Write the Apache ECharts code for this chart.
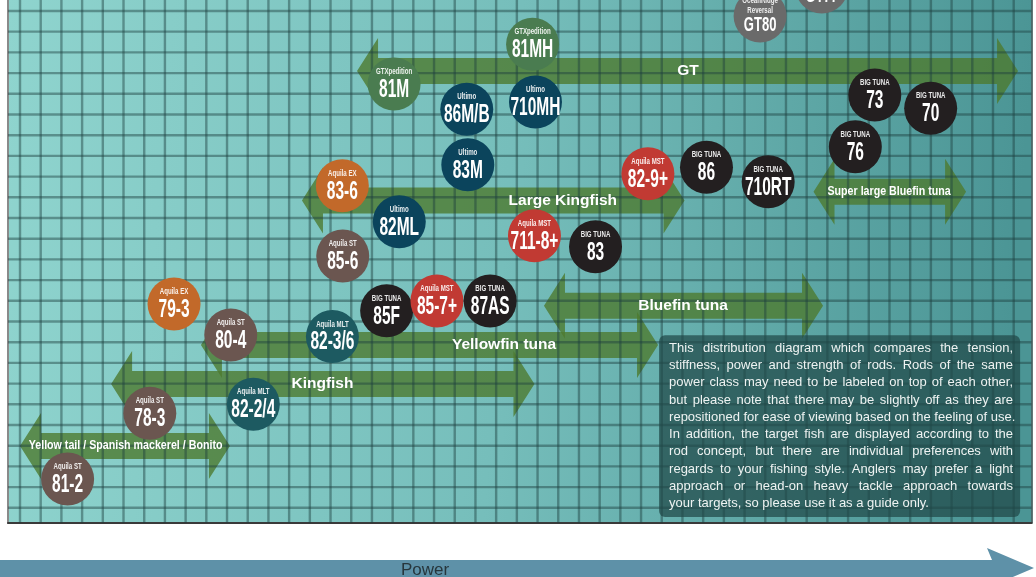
<!DOCTYPE html>
<html><head><meta charset="utf-8">
<script src="https://cdn.jsdelivr.net/npm/echarts@6/dist/echarts.min.js"></script>
<style>html,body{margin:0;padding:0;background:#fff}#c{width:1036px;height:577px}</style>
</head><body><div id="c"></div>
<script>
// ---- data (units = grid cells; x = power, y = level) ----
const rodBrand = ['GTXpedition','GTXpedition','Ultimo','Ultimo','Ultimo','OceanRidge Reversal','OceanRidge Reversal','BIG TUNA','BIG TUNA','BIG TUNA','Aquila EX','Ultimo','Aquila ST','Aquila MST','BIG TUNA','BIG TUNA','Aquila MST','BIG TUNA','Aquila EX','Aquila ST','Aquila MLT','BIG TUNA','Aquila MST','BIG TUNA','Aquila MLT','Aquila ST','Aquila ST'];
const rodModel = ['81M','81MH','86M/B','710MH','83M','GT80','GT77','73','70','76','83-6','82ML','85-6','82-9+','86','710RT','711-8+','83','79-3','80-4','82-3/6','85F','85-7+','87AS','82-2/4','78-3','81-2'];
const rodPower = [18.07,24.76,21.58,24.90,21.63,35.75,38.73,41.29,43.99,40.35,15.57,18.32,15.59,30.33,33.16,36.14,24.85,27.80,7.44,10.18,15.09,17.71,20.14,22.71,11.27,6.27,2.30];
const rodLevel = [20.47,22.39,19.25,19.60,16.57,23.76,25.16,19.94,19.30,17.44,15.56,13.82,12.16,16.14,16.45,15.75,13.14,12.61,9.85,8.35,8.27,9.52,9.99,9.99,5.00,4.57,1.39];

const fishName = ['GT','Large Kingfish','Super large Bluefin tuna','Bluefin tuna','Yellowfin tuna','Kingfish','Yellow tail / Spanish mackerel / Bonito'];
const fishFrom = [16.28,13.62,38.33,25.31,8.74,4.40,0.00];
const fishTo   = [48.21,32.10,45.70,38.79,30.82,24.85,10.14];
const fishLevel = [21.10,14.84,15.27,9.76,7.86,5.98,2.99];
const fishLabelAt = [32.27,26.22,41.98,32.03,23.38,14.61,5.10];

const noteBox = [30.87, 8.33, 48.31, -0.44];
const noteLines = [
 'This distribution diagram which compares the tension,',
 'stiffness, power and strength of rods. Rods of the same',
 'power class may need to be labeled on top of each other,',
 'but please note that there may be slightly off as they are',
 'repositioned for ease of viewing based on the feeling of use.',
 'In addition, the target fish are displayed according to the',
 'rod concept, but there are individual preferences with',
 'regards to your fishing style. Anglers may prefer a light',
 'approach or head-on heavy tackle approach towards',
 'your targets, so please use it as a guide only.'
];
const noteNatural = [4, 9];
const axisName = 'Power';

// ---- view bounds ----
const xMin = -0.58, xMax = 48.86, yMin = -0.734, yMax = 24.53;

const brandColor = {'GTXpedition':'#4a7c50','Ultimo':'#0b445c','OceanRidge Reversal':'#6a6a6a','BIG TUNA':'#231f20','Aquila EX':'#c2692a','Aquila ST':'#6b5650','Aquila MST':'#c13a33','Aquila MLT':'#1d5a61'};
const brandLines = {'OceanRidge Reversal':['OceanRidge','Reversal']};
const FF = '"Liberation Sans", Arial, sans-serif';

function txt(x, y, s, font, sx, fill, align) {
  align = align || 'center';
  return {type:'text', x:x, y:y, scaleX:sx, style:{text:s, font:font, fill:fill,
    align:align, verticalAlign:'middle', textAlign:align, textVerticalAlign:'middle'}};
}

const chart = echarts.init(document.getElementById('c'), null, {renderer:'canvas'});

const mctx = document.createElement('canvas').getContext('2d');
const noteFont = '13px ' + FF;
mctx.font = noteFont;

const option = {
  animation: false,
  grid: {left: 8, right: 4.5, top: 0, bottom: 54, show: true, borderWidth: 0,
    backgroundColor: new echarts.graphic.LinearGradient(0, 0, 1, 0.15, [
      {offset: 0, color: '#8fd4ce'}, {offset: 0.5, color: '#76bebb'}, {offset: 1, color: '#4b9595'}])},
  xAxis: {type: 'value', min: xMin, max: xMax, position: 'bottom',
    axisLine: {show: true, onZero: false, lineStyle: {color: '#3a3a3a', width: 2}},
    axisTick: {show: false}, axisLabel: {show: false}, splitLine: {show: false}},
  yAxis: [
    {type: 'value', min: yMin, max: yMax, position: 'left',
      axisLine: {show: true, onZero: false, lineStyle: {color: '#8a8a8a', width: 2}},
      axisTick: {show: false}, axisLabel: {show: false}, splitLine: {show: false}},
    {type: 'value', min: yMin, max: yMax, position: 'right',
      axisLine: {show: true, onZero: false, lineStyle: {color: '#2f4a4a', width: 1.5}},
      axisTick: {show: false}, axisLabel: {show: false}, splitLine: {show: false}}
  ],
  series: [
    { // target fish arrows
      type: 'custom', z: 2, silent: true,
      data: fishName.map((n, i) => [fishFrom[i], fishTo[i], fishLevel[i]]),
      renderItem: function (params, api) {
        const L = api.coord([api.value(0), api.value(2)]);
        const R = api.coord([api.value(1), api.value(2)]);
        const c = L[1], l = L[0], r = R[0], h = 13, H = 33, len = 21;
        return {type: 'polygon', shape: {points: [[l, c], [l + len, c - H], [l + len, c - h], [r - len, c - h], [r - len, c - H], [r, c], [r - len, c + H], [r - len, c + h], [l + len, c + h], [l + len, c + H]]},
          style: {fill: 'rgba(78,122,48,0.8)'}};
      }
    },
    { // lattice
      type: 'custom', z: 3, silent: true, data: [[0, 0]],
      renderItem: function (params, api) {
        const cs = params.coordSys, ch = [];
        const st = {stroke: 'rgba(28,62,62,0.45)', lineWidth: 2.4};
        for (let k = Math.ceil(xMin); k <= xMax; k++) {
          const px = api.coord([k, 0])[0];
          ch.push({type: 'line', shape: {x1: px, y1: cs.y, x2: px, y2: cs.y + cs.height}, style: st});
        }
        for (let k = Math.ceil(yMin); k <= yMax; k++) {
          const py = api.coord([0, k])[1];
          ch.push({type: 'line', shape: {x1: cs.x, y1: py, x2: cs.x + cs.width, y2: py}, style: st});
        }
        return {type: 'group', children: ch};
      }
    },
    { // fish labels
      type: 'custom', z: 4, silent: true,
      data: fishName.map((n, i) => [fishLabelAt[i], fishLevel[i]]),
      renderItem: function (params, api) {
        const i = params.dataIndex;
        const p = api.coord([api.value(0), api.value(1)]);
        const name = fishName[i];
        if (name.length > 18) return txt(p[0], p[1], name, 'bold 13px ' + FF, 0.82, '#fff');
        return txt(p[0], p[1], name, 'bold 15.5px ' + FF, 1, '#fff');
      }
    },
    { // rods
      type: 'custom', z: 5, silent: true,
      data: rodModel.map((m, i) => [rodPower[i], rodLevel[i]]),
      renderItem: function (params, api) {
        const i = params.dataIndex;
        const p = api.coord([api.value(0), api.value(1)]);
        const brand = rodBrand[i];
        const lines = brandLines[brand] || [brand];
        const ch = [{type: 'circle', shape: {cx: p[0], cy: p[1], r: 26.5}, style: {fill: brandColor[brand]}}];
        const tf = 'bold 9px ' + FF, tc = 'rgba(255,255,255,0.9)';
        if (lines.length === 2) {
          ch.push(txt(p[0], p[1] - 15, lines[0], tf, 0.68, tc));
          ch.push(txt(p[0], p[1] - 5.5, lines[1], tf, 0.68, tc));
          ch.push(txt(p[0], p[1] + 9, rodModel[i], 'bold 21px ' + FF, 0.62, '#fff'));
        } else {
          ch.push(txt(p[0], p[1] - 12.5, lines[0], tf, 0.68, tc));
          ch.push(txt(p[0], p[1] + 6, rodModel[i], 'bold 25px ' + FF, 0.62, '#fff'));
        }
        return {type: 'group', children: ch};
      }
    },
    { // note
      type: 'custom', z: 6, silent: true, data: [noteBox],
      renderItem: function (params, api) {
        const a = api.coord([api.value(0), api.value(1)]);
        const b = api.coord([api.value(2), api.value(3)]);
        const ch = [{type: 'rect', shape: {x: a[0], y: a[1], width: b[0] - a[0], height: b[1] - a[1], r: 6},
          style: {fill: 'rgba(32,72,72,0.72)'}}];
        const x0 = a[0] + 10, W = 344, spW = mctx.measureText(' ').width;
        noteLines.forEach(function (line, li) {
          const y = a[1] + 12.7 + li * 17.3;
          const words = line.split(' ');
          const ws = words.map(w => mctx.measureText(w).width);
          const sum = ws.reduce((s, v) => s + v, 0);
          const gap = (noteNatural.indexOf(li) >= 0 || words.length < 2) ? spW : (W - sum) / (words.length - 1);
          let x = x0;
          words.forEach(function (w, wi) {
            ch.push(txt(x, y, w, noteFont, 1, '#eef3f2', 'left'));
            x += ws[wi] + gap;
          });
        });
        return {type: 'group', children: ch};
      }
    }
  ],
  graphic: [
    {type: 'polygon', z: 10, silent: true,
      shape: {points: [[0, 560], [992, 560], [987, 548], [1034, 568], [987, 588], [992, 578], [0, 578]]},
      style: {fill: '#5e91a8'}},
    {type: 'text', z: 11, silent: true, x: 425, y: 570,
      style: {text: axisName, font: '17px ' + FF, fill: '#27363c', align: 'center', verticalAlign: 'middle', textAlign: 'center', textVerticalAlign: 'middle'}}
  ]
};
chart.setOption(option);
</script>
</body></html>
